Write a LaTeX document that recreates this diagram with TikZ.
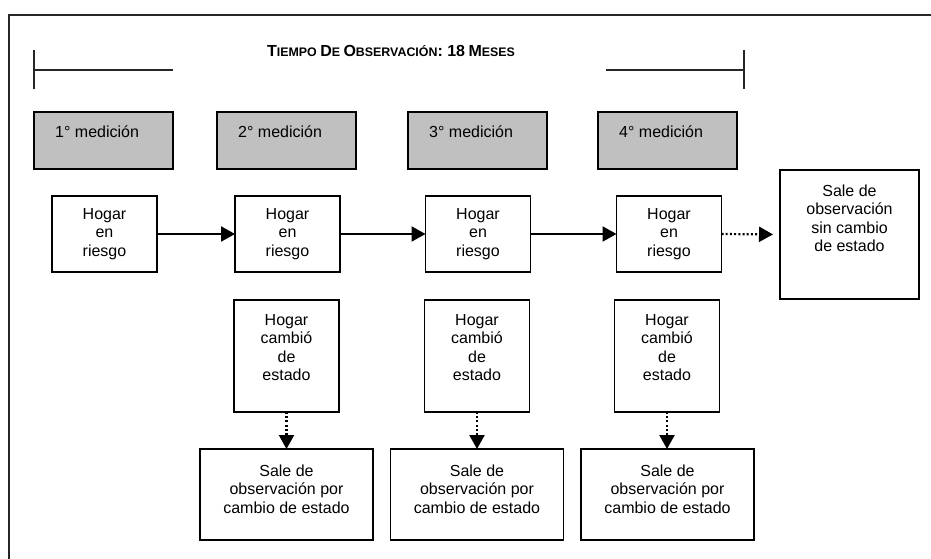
\documentclass[tikz,border=0pt]{standalone}
\usepackage{fontspec}
\setmainfont{Liberation Sans}
\usetikzlibrary{arrows.meta}
\definecolor{medgray}{HTML}{C0C0C0}
\newcommand{\tcap}[1]{{\fontsize{16}{18}\selectfont #1}}
\begin{document}
\begin{tikzpicture}[x=1pt,y=-1pt,
  frameline/.style={line width=1.5pt, draw=black!85},
  box/.style={draw, line width=1.4pt, inner sep=0pt, outer sep=0pt, align=center, font=\fontsize{16}{18.5}\selectfont},
  med/.style={box, fill=medgray, minimum width=139pt, minimum height=57pt},
  riesgo/.style={box, minimum width=105pt, minimum height=76pt},
  cambio/.style={box, minimum width=105pt, minimum height=112pt},
  salida/.style={box, minimum width=173pt, minimum height=91pt},
  sincambio/.style={box, minimum width=139pt, minimum height=129pt},
  medtext/.style={anchor=base west, xshift=21pt, yshift=-25pt, inner sep=0pt, font=\fontsize{16}{18.5}\selectfont},
  innertext/.style={anchor=north, yshift=#1, align=center, inner sep=0pt, font=\fontsize{16}{18.5}\selectfont},
  flow/.style={line width=2.2pt, -{Triangle[length=14pt,width=15pt]}},
  dotflow/.style={flow, dash pattern=on 2pt off 2.2pt},
]
\useasboundingbox (0,0) rectangle (931,559);
% frame
\draw[frameline] (9,559) -- (9,15) -- (931,15);
% time brackets
\draw[frameline] (34,50) -- (34,89) (34,70) -- (173,70);
\draw[frameline] (606,70) -- (744,70) (744,50) -- (744,89);
\node[anchor=base, font=\bfseries\fontsize{12.4}{14}\selectfont, inner sep=0pt] (title) at (391,57)
  {\tcap{T}IEMPO \tcap{D}E \tcap{O}BSERVACIÓN\tcap{: 18} \tcap{M}ESES};
% mediciones
\node[med, label={[medtext]north west:1° medición}] (m1) at (103.5,140.5) {};
\node[med, label={[medtext]north west:2° medición}] (m2) at (286.5,140.5) {};
\node[med, label={[medtext]north west:3° medición}] (m3) at (477.5,140.5) {};
\node[med, label={[medtext]north west:4° medición}] (m4) at (667.5,140.5) {};
% hogar en riesgo
\node[riesgo] (r1) at (104.5,234) {Hogar\\en\\riesgo};
\node[riesgo] (r2) at (287.5,234) {Hogar\\en\\riesgo};
\node[riesgo] (r3) at (478,234) {Hogar\\en\\riesgo};
\node[riesgo] (r4) at (669,234) {Hogar\\en\\riesgo};
\node[sincambio, label={[innertext=-14.3pt]north:Sale de\\observación\\sin cambio\\de estado}] (s0) at (849.5,234.5) {};
% hogar cambio
\node[cambio, label={[innertext=-14pt]north:Hogar\\cambió\\de\\estado}] (c2) at (286.5,356) {};
\node[cambio, label={[innertext=-14pt]north:Hogar\\cambió\\de\\estado}] (c3) at (477,356) {};
\node[cambio, label={[innertext=-14pt]north:Hogar\\cambió\\de\\estado}] (c4) at (667,356) {};
% salidas
\node[salida, label={[innertext=-15.3pt]north:Sale de\\observación por\\cambio de estado}] (e2) at (286.5,494.5) {};
\node[salida, label={[innertext=-15.3pt]north:Sale de\\observación por\\cambio de estado}] (e3) at (477,494.5) {};
\node[salida, label={[innertext=-15.3pt]north:Sale de\\observación por\\cambio de estado}] (e4) at (667.5,494.5) {};
% connectors
\draw[flow] (r1.east) -- (r2.west);
\draw[flow] (r2.east) -- (r3.west);
\draw[flow] (r3.east) -- (r4.west);
\draw[dotflow, shorten >=7pt] (r4.east) -- (s0.west);
\draw[dotflow] (c2.south) -- (e2.north);
\draw[dotflow] (c3.south) -- (e3.north);
\draw[dotflow] (c4.south) -- (c4.south |- e4.north);
\end{tikzpicture}
\end{document}
